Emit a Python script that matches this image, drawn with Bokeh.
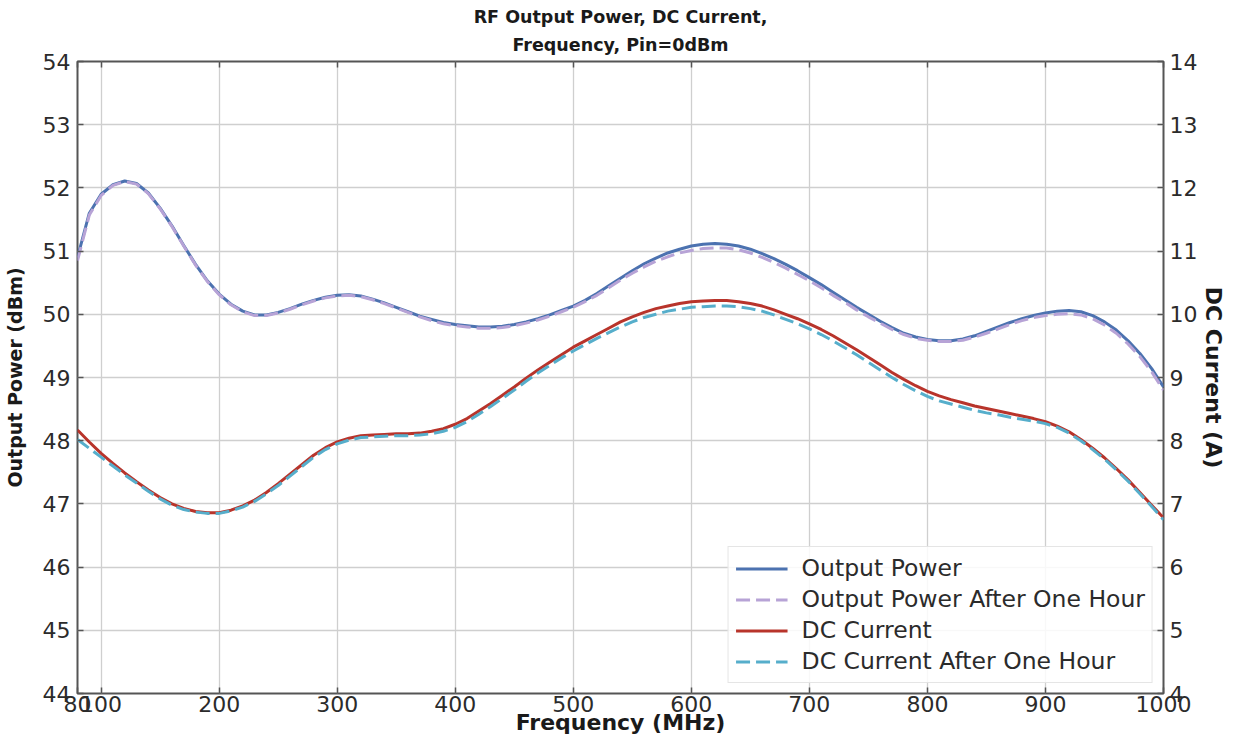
from bokeh.plotting import figure
from bokeh.models import Range1d, LinearAxis, FixedTicker, Title
from bokeh.embed import file_html
from bokeh.resources import INLINE

# ---- data ----
freq = [80, 90, 100, 110, 120, 130, 140, 150, 160, 170, 180, 190, 200, 210, 220,
        230, 240, 250, 260, 270, 280, 290, 300, 310, 320, 330, 340, 350, 360, 370,
        380, 390, 400, 410, 420, 430, 440, 450, 460, 470, 480, 490, 500, 510, 520,
        530, 540, 550, 560, 570, 580, 590, 600, 610, 620, 630, 640, 650, 660, 670,
        680, 690, 700, 710, 720, 730, 740, 750, 760, 770, 780, 790, 800, 810, 820,
        830, 840, 850, 860, 870, 880, 890, 900, 910, 920, 930, 940, 950, 960, 970,
        980, 990, 1000]

output_power = [50.90, 51.60, 51.90, 52.05, 52.11, 52.07, 51.92, 51.68, 51.40, 51.09,
                50.79, 50.53, 50.32, 50.16, 50.05, 49.99, 49.99, 50.03, 50.09, 50.16,
                50.22, 50.27, 50.30, 50.31, 50.29, 50.24, 50.18, 50.11, 50.04, 49.97,
                49.92, 49.87, 49.84, 49.82, 49.80, 49.80, 49.81, 49.84, 49.88, 49.93,
                49.99, 50.06, 50.13, 50.22, 50.33, 50.45, 50.57, 50.69, 50.80, 50.89,
                50.97, 51.03, 51.08, 51.11, 51.12, 51.11, 51.08, 51.03, 50.96, 50.88,
                50.79, 50.69, 50.58, 50.47, 50.35, 50.23, 50.11, 50.00, 49.89, 49.79,
                49.70, 49.64, 49.60, 49.58, 49.58, 49.61, 49.66, 49.73, 49.80, 49.87,
                49.93, 49.98, 50.02, 50.05, 50.06, 50.04, 49.98, 49.88, 49.75, 49.58,
                49.38, 49.14, 48.85]

output_power_1h = [50.85, 51.57, 51.88, 52.04, 52.10, 52.06, 51.91, 51.67, 51.39, 51.08,
                   50.78, 50.52, 50.31, 50.15, 50.04, 49.98, 49.98, 50.02, 50.08, 50.15,
                   50.21, 50.26, 50.29, 50.30, 50.28, 50.23, 50.17, 50.10, 50.03, 49.96,
                   49.90, 49.85, 49.82, 49.80, 49.78, 49.78, 49.79, 49.82, 49.86, 49.91,
                   49.97, 50.04, 50.11, 50.20, 50.30, 50.42, 50.54, 50.65, 50.75, 50.84,
                   50.91, 50.97, 51.01, 51.04, 51.05, 51.05, 51.02, 50.97, 50.90, 50.82,
                   50.73, 50.63, 50.53, 50.42, 50.30, 50.19, 50.07, 49.96, 49.86, 49.76,
                   49.68, 49.62, 49.59, 49.57, 49.57, 49.59, 49.64, 49.70, 49.77, 49.84,
                   49.90, 49.95, 49.98, 50.00, 50.01, 49.99, 49.93, 49.83, 49.70, 49.53,
                   49.33, 49.09, 48.80]

dc_current = [8.17, 7.98, 7.80, 7.64, 7.49, 7.35, 7.22, 7.10, 7.00, 6.93,
              6.88, 6.86, 6.86, 6.90, 6.97, 7.06, 7.18, 7.32, 7.47, 7.62,
              7.77, 7.89, 7.98, 8.04, 8.08, 8.09, 8.10, 8.11, 8.11, 8.12,
              8.15, 8.19, 8.26, 8.35, 8.47, 8.59, 8.72, 8.85, 8.99, 9.12,
              9.24, 9.36, 9.48, 9.58, 9.68, 9.78, 9.88, 9.96, 10.03, 10.09,
              10.13, 10.17, 10.20, 10.21, 10.22, 10.22, 10.20, 10.17, 10.13, 10.07,
              10.00, 9.93, 9.85, 9.76, 9.66, 9.55, 9.44, 9.32, 9.20, 9.08,
              8.97, 8.87, 8.78, 8.71, 8.65, 8.60, 8.55, 8.51, 8.47, 8.43,
              8.39, 8.35, 8.30, 8.23, 8.14, 8.02, 7.88, 7.73, 7.56, 7.38,
              7.18, 6.98, 6.78]

dc_current_1h = [8.02, 7.88, 7.74, 7.60, 7.46, 7.33, 7.20, 7.08, 6.98, 6.91,
                 6.87, 6.85, 6.85, 6.89, 6.95, 7.04, 7.16, 7.29, 7.44, 7.59,
                 7.74, 7.86, 7.95, 8.01, 8.05, 8.06, 8.07, 8.08, 8.08, 8.09,
                 8.11, 8.15, 8.21, 8.30, 8.42, 8.54, 8.67, 8.80, 8.94, 9.07,
                 9.19, 9.31, 9.42, 9.52, 9.62, 9.71, 9.80, 9.88, 9.95, 10.00,
                 10.05, 10.08, 10.11, 10.12, 10.13, 10.13, 10.12, 10.09, 10.05, 9.99,
                 9.92, 9.85, 9.77, 9.68, 9.58, 9.47, 9.36, 9.24, 9.12, 9.00,
                 8.89, 8.79, 8.70, 8.63, 8.58, 8.53, 8.48, 8.44, 8.41, 8.37,
                 8.34, 8.31, 8.27, 8.21, 8.12, 8.00, 7.86, 7.71, 7.54, 7.36,
                 7.16, 6.96, 6.75]

x_ticks = [80, 100, 200, 300, 400, 500, 600, 700, 800, 900, 1000]
power_ticks = [44, 45, 46, 47, 48, 49, 50, 51, 52, 53, 54]
current_ticks = [4, 5, 6, 7, 8, 9, 10, 11, 12, 13, 14]

FONT = "DejaVu Sans"
AX = "#555555"
TXT = "#2b2b2b"

p = figure(width=1229, height=737, output_backend="svg", toolbar_location=None,
           x_range=Range1d(80, 1000), y_range=Range1d(44, 54),
           min_border_left=76, min_border_right=58, min_border_top=61, min_border_bottom=40,
           background_fill_color="white", border_fill_color="white")
p.title = None
p.extra_y_ranges = {"dc": Range1d(4, 14)}

p.outline_line_color = AX
p.outline_line_width = 2
p.outline_line_alpha = 1.0


def style_axis(ax, label_size="21px"):
    ax.axis_line_color = None
    ax.major_tick_in = 6
    ax.major_tick_out = 0
    ax.major_tick_line_color = AX
    ax.major_tick_line_width = 1.5
    ax.minor_tick_line_color = None
    ax.major_label_text_font = FONT
    ax.major_label_text_font_size = "22px"
    ax.major_label_text_color = TXT
    ax.axis_label_text_font = FONT
    ax.axis_label_text_font_size = label_size
    ax.axis_label_text_font_style = "bold"
    ax.axis_label_text_color = "#1a1a1a"


xa = p.xaxis[0]
xa.ticker = FixedTicker(ticks=x_ticks)
xa.axis_label = "Frequency (MHz)"
style_axis(xa, "22px")
xa.major_label_standoff = 2
xa.axis_label_standoff = -5

ya = p.yaxis[0]
ya.ticker = FixedTicker(ticks=power_ticks)
ya.axis_label = "Output Power (dBm)"
style_axis(ya, "19px")
ya.major_label_standoff = 7
ya.axis_label_standoff = 14

ra = LinearAxis(y_range_name="dc", ticker=FixedTicker(ticks=current_ticks),
                axis_label="DC Current (A)")
style_axis(ra, "22px")
ra.major_label_standoff = 6
ra.axis_label_standoff = 1
p.add_layout(ra, "right")

ta = LinearAxis(ticker=FixedTicker(ticks=x_ticks))
style_axis(ta)
ta.major_label_text_font_size = "0px"
ta.major_label_standoff = 0
p.add_layout(ta, "above")

title_line2 = Title(text="Frequency, Pin=0dBm", align="center", text_font=FONT,
                    text_font_size="17.5px", text_font_style="bold", text_color="#1a1a1a",
                    standoff=13)
title_line1 = Title(text="RF Output Power, DC Current,", align="center", text_font=FONT,
                    text_font_size="17.5px", text_font_style="bold", text_color="#1a1a1a",
                    standoff=0)
p.add_layout(title_line2, "above")
p.add_layout(title_line1, "above")

p.xgrid.grid_line_color = "#cfcfcf"
p.xgrid.grid_line_width = 1.3
p.ygrid.grid_line_color = "#cfcfcf"
p.ygrid.grid_line_width = 1.3

p.line(freq, output_power, line_color="#4c72b0", line_width=3, line_join="round",
       legend_label="Output Power")
p.line(freq, output_power_1h, line_color="#b7a3d6", line_width=3, line_dash="14 6",
       line_join="round", legend_label="Output Power After One Hour")
p.line(freq, dc_current, line_color="#b8342b", line_width=3, y_range_name="dc",
       line_join="round", legend_label="DC Current")
p.line(freq, dc_current_1h, line_color="#56aecb", line_width=3, line_dash="14 6",
       y_range_name="dc", line_join="round", legend_label="DC Current After One Hour")

lg = p.legend[0]
lg.location = "bottom_right"
lg.margin = 10
lg.padding = 7
lg.spacing = 3
lg.glyph_width = 52
lg.glyph_height = 27
lg.label_height = 27
lg.label_standoff = 14
lg.label_text_font = FONT
lg.label_text_font_size = "23.5px"
lg.label_text_color = TXT
lg.border_line_color = "#cccccc"
lg.border_line_width = 1.5
lg.background_fill_alpha = 0.85

open("out.html", "w").write(file_html(p, INLINE))
